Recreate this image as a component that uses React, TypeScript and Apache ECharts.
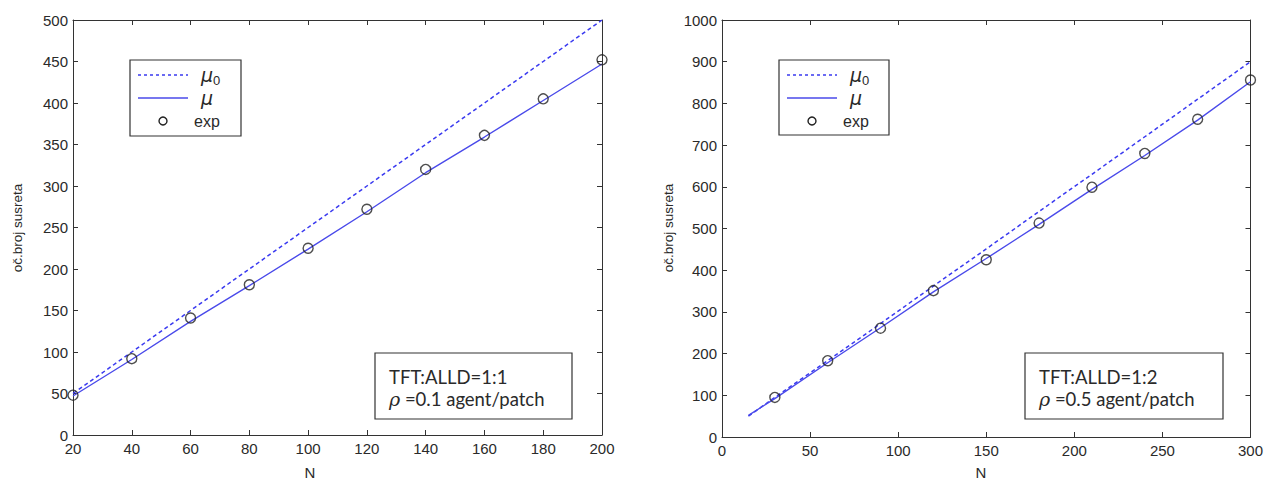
import React, { useEffect, useRef } from "react";
import * as echarts from "echarts";

// ---- data ----
const N_LEFT = [20, 40, 60, 80, 100, 120, 140, 160, 180, 200];
const MU0_LEFT = [50, 100, 150, 200, 250, 300, 350, 400, 450, 500];
const MU_LEFT = [47, 91, 137, 180, 224, 269, 316, 359, 403, 447];
const EXP_LEFT = [48, 92, 141, 181, 225, 272, 320, 361, 405, 452];

const N_RIGHT_LINE = [15, 30, 60, 90, 120, 150, 180, 210, 240, 270, 300];
const MU0_RIGHT = [50, 95, 183, 272, 362, 451, 541, 630, 720, 810, 900];
const MU_RIGHT = [52, 92, 178, 262, 348, 428, 510, 594, 675, 760, 852];
const N_RIGHT_EXP = [30, 60, 90, 120, 150, 180, 210, 240, 270, 300];
const EXP_RIGHT = [95, 183, 261, 351, 425, 513, 599, 680, 762, 856];

const LEFT_X_TICKS = { min: 20, max: 200, interval: 20 };
const LEFT_Y_TICKS = { min: 0, max: 500, interval: 50 };
const RIGHT_X_TICKS = { min: 0, max: 300, interval: 50 };
const RIGHT_Y_TICKS = { min: 0, max: 1000, interval: 100 };

const Y_NAME = "oč.broj susreta";
const X_NAME = "N";
const LEGEND_NAMES = ["μ0", "μ", "exp"];
const NOTE_LEFT = ["TFT:ALLD=1:1", "0.1 agent/patch"];
const NOTE_RIGHT = ["TFT:ALLD=1:2", "0.5 agent/patch"];

const AXIS_COLOR = "#333";
const TEXT_COLOR = "#2a2a2a";
const LABEL_FONT = "'Liberation Sans', Arial, sans-serif";
const LINE_BLUE = "#4a4aea";
const DASH_BLUE = "#3a3af0";

const pairs = (xs: number[], ys: number[]) => xs.map((x, i) => [x, ys[i]]);

function axisPair(gridIndex: number, t: { min: number; max: number; interval: number }, dim: "x" | "y") {
  const main: any = {
    type: "value",
    gridIndex,
    min: t.min,
    max: t.max,
    interval: t.interval,
    position: dim === "x" ? "bottom" : "left",
    axisLine: { show: true, onZero: false, lineStyle: { color: AXIS_COLOR, width: 1 } },
    axisTick: { show: true, inside: true, length: 5, lineStyle: { color: AXIS_COLOR } },
    axisLabel: {
      show: true,
      color: TEXT_COLOR,
      fontSize: 15,
      fontFamily: LABEL_FONT,
      margin: dim === "x" ? 6 : 5,
      showMinLabel: true,
      showMaxLabel: true,
      formatter: (v: number) => String(v),
    },
    splitLine: { show: false },
  };
  const second: any = {
    ...main,
    position: dim === "x" ? "top" : "right",
    axisLabel: { show: false },
  };
  return [main, second];
}

function legendGraphic(bx: number, by: number, w: number, h: number) {
  const rowY = [by + 15, by + 38, by + 61];
  return {
    type: "group",
    children: [
      { type: "rect", shape: { x: bx, y: by, width: w, height: h }, style: { fill: "#fff", stroke: "#333", lineWidth: 1.2 } },
      { type: "line", shape: { x1: bx + 8, y1: rowY[0], x2: bx + 58, y2: rowY[0] }, style: { stroke: DASH_BLUE, lineWidth: 1.4, lineDash: [3, 3] } },
      { type: "line", shape: { x1: bx + 8, y1: rowY[1], x2: bx + 58, y2: rowY[1] }, style: { stroke: LINE_BLUE, lineWidth: 1.6 } },
      { type: "circle", shape: { cx: bx + 33, cy: rowY[2], r: 4 }, style: { fill: "none", stroke: "#222", lineWidth: 1.4 } },
      { type: "text", x: bx + 71, y: rowY[0], style: { text: "μ", fontSize: 19, fontStyle: "italic", fontFamily: "'DejaVu Sans'", fill: TEXT_COLOR, verticalAlign: "middle", align: "left" } },
      { type: "text", x: bx + 83, y: rowY[0] + 5, style: { text: "0", fontSize: 13, fontFamily: LABEL_FONT, fill: TEXT_COLOR, verticalAlign: "middle", align: "left" } },
      { type: "text", x: bx + 71, y: rowY[1], style: { text: "μ", fontSize: 19, fontStyle: "italic", fontFamily: "'DejaVu Sans'", fill: TEXT_COLOR, verticalAlign: "middle", align: "left" } },
      { type: "text", x: bx + 64, y: rowY[2], style: { text: "exp", fontSize: 16, fontFamily: LABEL_FONT, fill: TEXT_COLOR, verticalAlign: "middle", align: "left" } },
    ],
  };
}

function noteGraphic(bx: number, by: number, w: number, h: number, lines: string[]) {
  return {
    type: "group",
    children: [
      { type: "rect", shape: { x: bx, y: by, width: w, height: h }, style: { fill: "#fff", stroke: "#333", lineWidth: 1.2 } },
      { type: "text", x: bx + 14, y: by + 24, style: { text: lines[0], fontSize: 18.5, fontFamily: "Lato, sans-serif", fill: TEXT_COLOR, verticalAlign: "middle", align: "left" } },
      {
        type: "text",
        x: bx + 14,
        y: by + 46,
        style: {
          text: "{r|ρ} =" + lines[1],
          fontSize: 18.5,
          fontFamily: "Lato, sans-serif",
          fill: TEXT_COLOR,
          verticalAlign: "middle",
          align: "left",
          rich: { r: { fontSize: 19, fontStyle: "italic", fontFamily: "'DejaVu Serif', serif", fill: TEXT_COLOR } },
        },
      },
    ],
  };
}

export default function App() {
  const ref = useRef<HTMLDivElement>(null);
  useEffect(() => {
    if (!ref.current) return;
    const chart = echarts.init(ref.current, null, { renderer: "svg" });
    const [lx0, lx1] = axisPair(0, LEFT_X_TICKS, "x");
    const [ly0, ly1] = axisPair(0, LEFT_Y_TICKS, "y");
    const [rx0, rx1] = axisPair(1, RIGHT_X_TICKS, "x");
    const [ry0, ry1] = axisPair(1, RIGHT_Y_TICKS, "y");

    const lineSeries = (name: string, xi: number, yi: number, data: number[][], dashed: boolean) => ({
      type: "line",
      name,
      xAxisIndex: xi,
      yAxisIndex: yi,
      data,
      showSymbol: false,
      symbol: "none",
      lineStyle: { color: dashed ? DASH_BLUE : LINE_BLUE, width: dashed ? 1.5 : 1.4, type: dashed ? [4, 3] : "solid" },
      z: 2,
    });
    const scatterSeries = (name: string, xi: number, yi: number, data: number[][]) => ({
      type: "scatter",
      name,
      xAxisIndex: xi,
      yAxisIndex: yi,
      data,
      symbol: "circle",
      symbolSize: 10,
      itemStyle: { color: "rgba(0,0,0,0)", borderColor: "#222", borderWidth: 1.4 },
      z: 3,
    });

    const nameStyle = { fontSize: 13.5, fontFamily: LABEL_FONT, fill: TEXT_COLOR, align: "center", verticalAlign: "middle" };

    chart.setOption({
      animation: false,
      backgroundColor: "#fff",
      grid: [
        { left: 73, top: 20, width: 529, height: 415 },
        { left: 722, top: 20, width: 530, height: 417 },
      ],
      xAxis: [lx0, lx1, rx0, rx1],
      yAxis: [ly0, ly1, ry0, ry1],
      series: [
        lineSeries(LEGEND_NAMES[0], 0, 0, pairs(N_LEFT, MU0_LEFT), true),
        lineSeries(LEGEND_NAMES[1], 0, 0, pairs(N_LEFT, MU_LEFT), false),
        scatterSeries(LEGEND_NAMES[2], 0, 0, pairs(N_LEFT, EXP_LEFT)),
        lineSeries(LEGEND_NAMES[0], 2, 2, pairs(N_RIGHT_LINE, MU0_RIGHT), true),
        lineSeries(LEGEND_NAMES[1], 2, 2, pairs(N_RIGHT_LINE, MU_RIGHT), false),
        scatterSeries(LEGEND_NAMES[2], 2, 2, pairs(N_RIGHT_EXP, EXP_RIGHT)),
      ],
      graphic: [
        legendGraphic(130, 60, 111, 76),
        legendGraphic(779, 60, 110, 75),
        noteGraphic(375, 353, 197, 66, NOTE_LEFT),
        noteGraphic(1025, 353, 198, 66, NOTE_RIGHT),
        { type: "text", x: 17, y: 228, rotation: Math.PI / 2, style: { ...nameStyle, text: Y_NAME } },
        { type: "text", x: 668, y: 228, rotation: Math.PI / 2, style: { ...nameStyle, text: Y_NAME } },
        { type: "text", x: 310, y: 472, style: { ...nameStyle, fontSize: 15, text: X_NAME } },
        { type: "text", x: 981, y: 472, style: { ...nameStyle, fontSize: 15, text: X_NAME } },
      ],
    });
    return () => chart.dispose();
  }, []);
  return <div ref={ref} style={{ position: "absolute", left: 0, top: 0, width: 1266, height: 479 }} />;
}
